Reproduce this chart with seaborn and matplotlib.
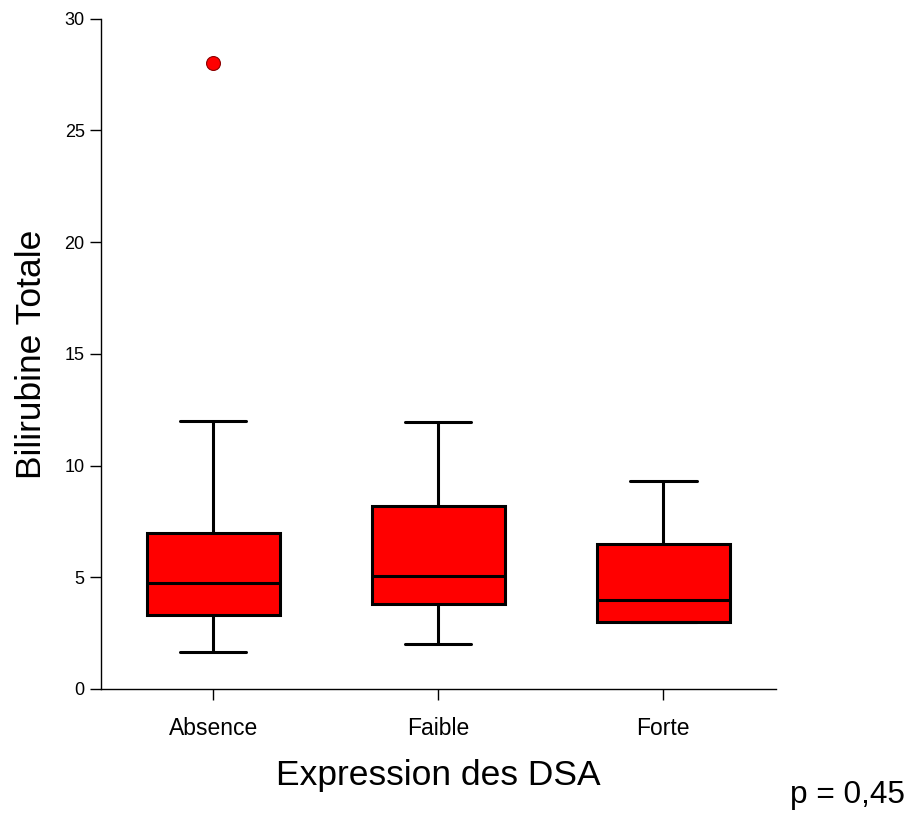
import pandas as pd
import numpy as np
import matplotlib.pyplot as plt
import seaborn as sns

# ========== DONNEES ==========
categories = ["Absence", "Faible", "Forte"]
whis_bas = [1.65, 2.0, 3.0]
q1 = [3.3, 3.8, 3.0]
mediane = [4.75, 5.05, 4.0]
q3 = [7.0, 8.2, 6.5]
whis_haut = [12.0, 11.95, 9.3]
outlier_cat = ["Absence"]
outlier_val = [28.0]

# table des résumés (5 valeurs par groupe -> quartiles exacts)
rows = []
for i, cat in enumerate(categories):
    for v in [whis_bas[i], q1[i], mediane[i], q3[i], whis_haut[i]]:
        rows.append({"groupe": cat, "valeur": v})
df = pd.DataFrame(rows)
df_out = pd.DataFrame({"groupe": outlier_cat, "valeur": outlier_val})

# ========== GRAPHIQUE ==========
sns.set_style("ticks")
plt.rcParams["font.family"] = ["Liberation Sans", "DejaVu Sans"]
plt.rcParams["text.color"] = "black"
plt.rcParams["axes.labelcolor"] = "black"
plt.rcParams["xtick.color"] = "black"
plt.rcParams["ytick.color"] = "black"
plt.rcParams["axes.edgecolor"] = "black"

fig = plt.figure(figsize=(9.15, 8.14), dpi=100)
ax = fig.add_axes([0.110, 0.1536, 0.738, 0.8234])

lw = 2.2
sns.boxplot(data=df, x="groupe", y="valeur", order=categories, ax=ax,
            width=0.59, whis=(0, 100), showfliers=False,
            color="#ff0000", saturation=1, linecolor="black", linewidth=lw)
sns.stripplot(data=df_out, x="groupe", y="valeur", order=categories, ax=ax,
              jitter=False, color="#ff0000", size=10, edgecolor="#8b0000",
              linewidth=0.8)

ax.set_xlim(-0.5, 2.5)
ax.set_ylim(0, 30)
ax.set_yticks([0, 5, 10, 15, 20, 25, 30])
ax.tick_params(axis="y", labelsize=13, length=8, width=1, direction="out")
ax.tick_params(axis="x", labelsize=16.5, length=8, width=1, direction="out", pad=12)
for s in ["left", "bottom"]:
    ax.spines[s].set_linewidth(1)
sns.despine(ax=ax)

ax.set_xlabel("Expression des DSA", fontsize=25.5, labelpad=14)
ax.set_ylabel("Bilirubine Totale", fontsize=25.5, labelpad=12)

fig.text(0.989, 0.013, "p = 0,45", fontsize=22.8, ha="right", va="baseline")

fig.savefig("out.png", dpi=100)
